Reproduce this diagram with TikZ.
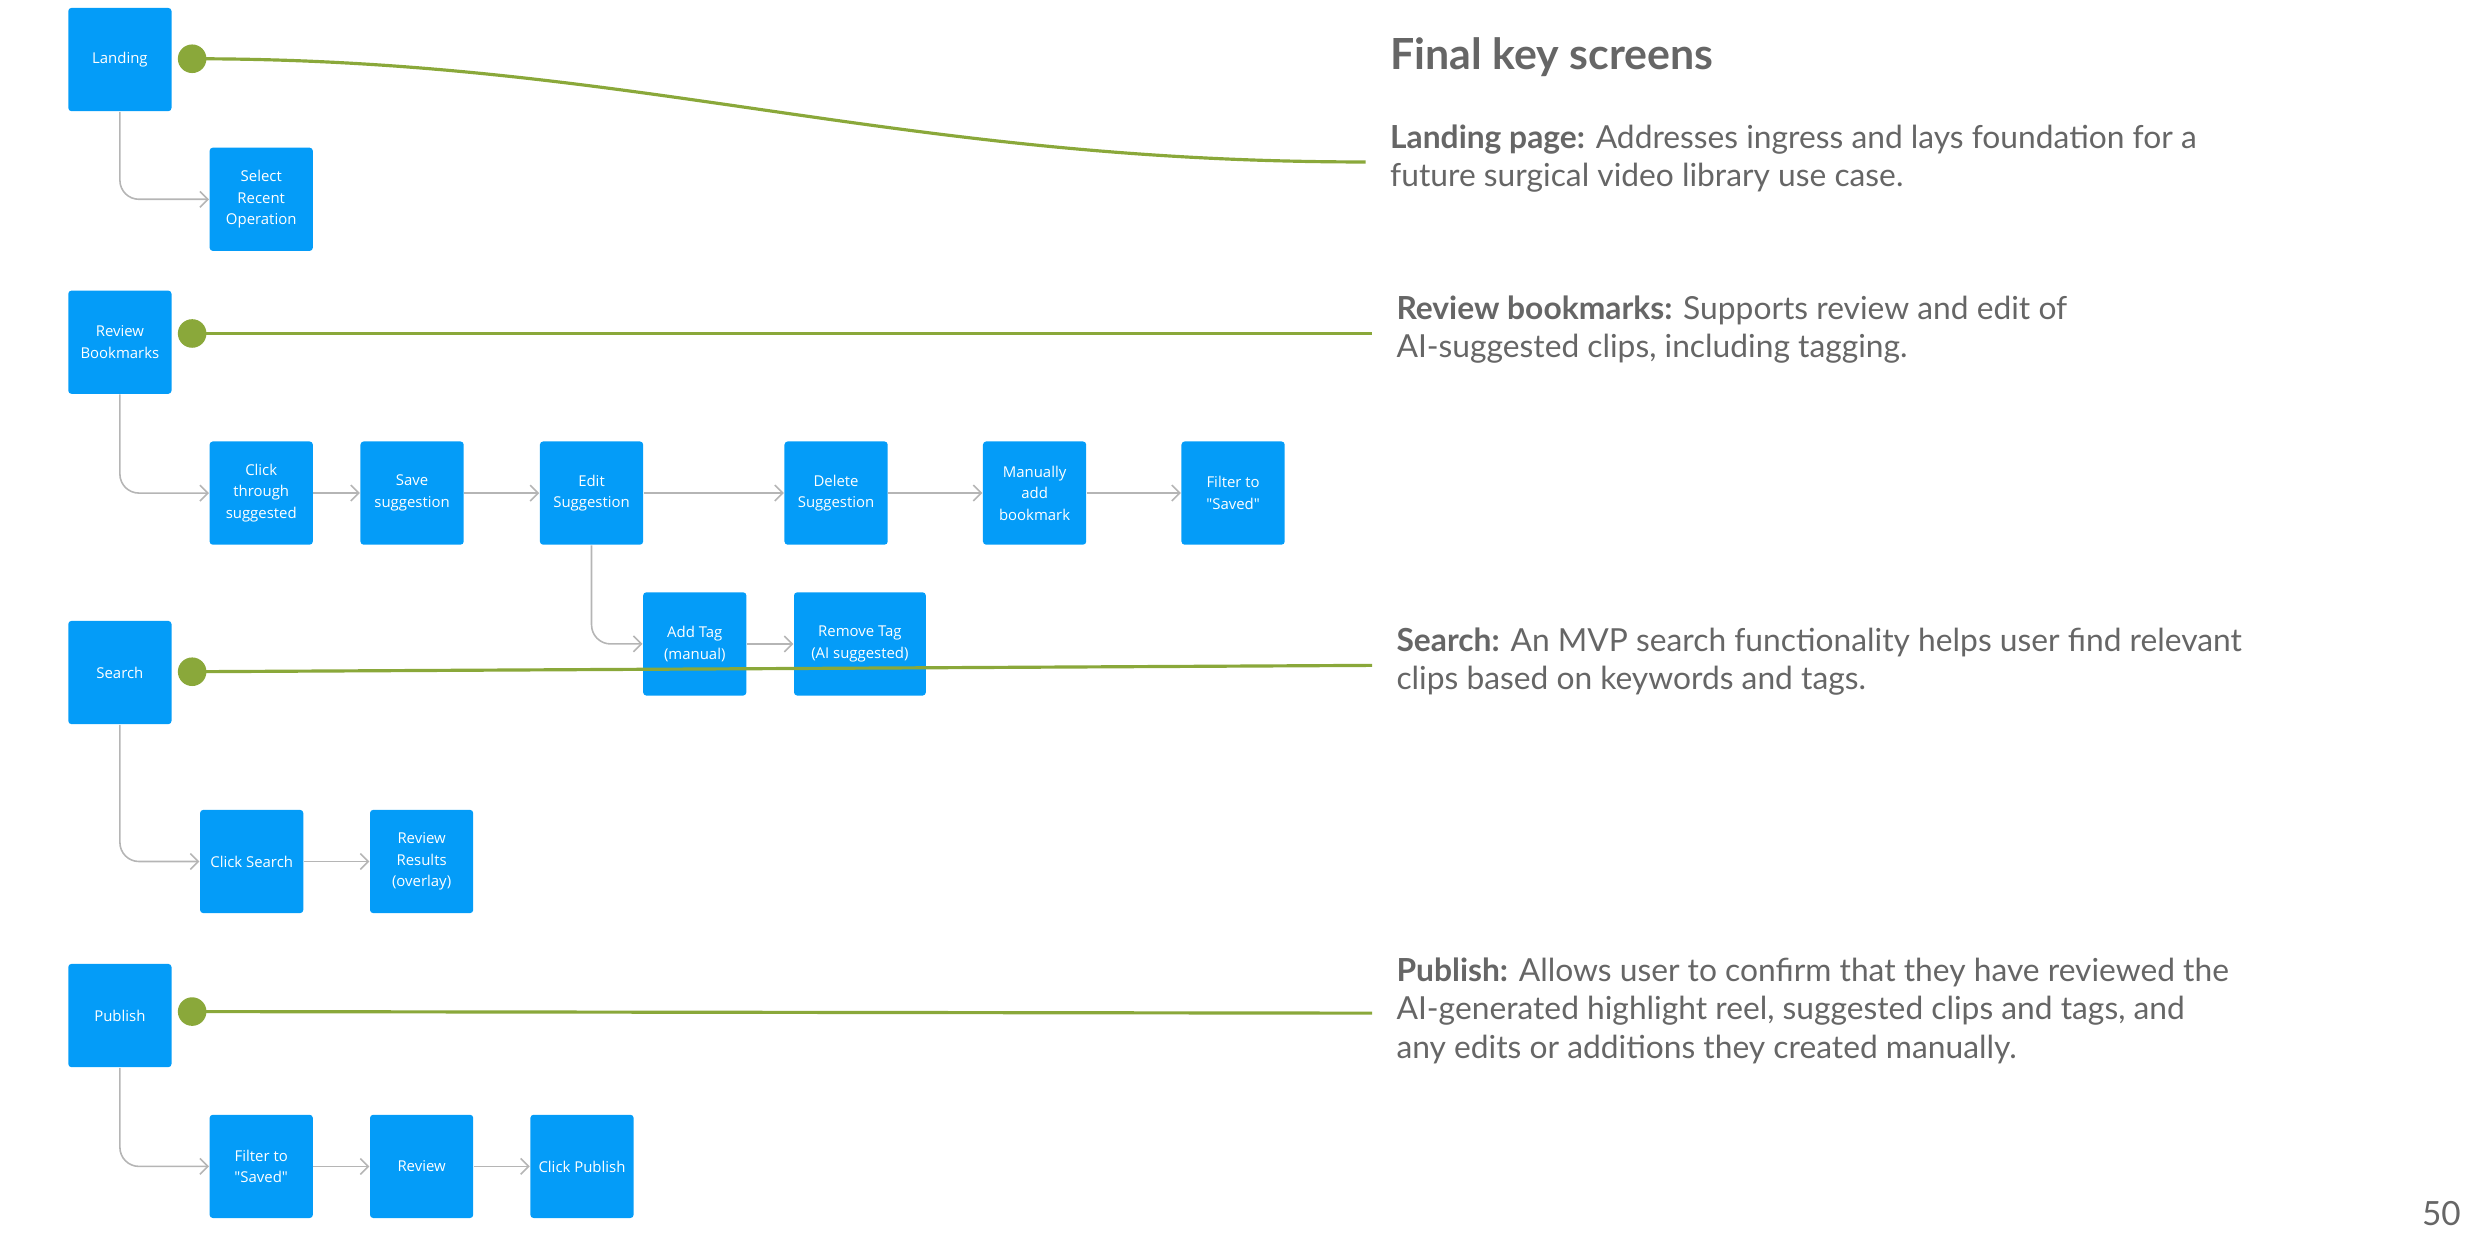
\documentclass[tikz,border=0pt]{standalone}
\usepackage{fontspec}
\setmainfont{Lato}
\newfontfamily\boxfont{Open Sans}
\usetikzlibrary{arrows.meta}
\definecolor{bblue}{HTML}{049CF8}
\definecolor{lgreen}{HTML}{8AA83A}
\definecolor{tgray}{HTML}{666666}
\definecolor{cgray}{HTML}{B5B5B5}
\begin{document}
\begin{tikzpicture}[x=0.5pt,y=-0.5pt,
  scr/.style={fill=bblue,rounded corners=1pt,minimum width=32.5pt,minimum height=32.5pt,inner sep=1pt,text=white,font=\boxfont\fontsize{4.7}{6.8}\selectfont,align=center},
  flow/.style={draw=cgray,line width=0.5pt,-{Straight Barb[length=2.5pt,width=5pt]},rounded corners=6pt},
  gline/.style={draw=lgreen,line width=1pt},
  gdot/.style={circle,fill=lgreen,minimum size=9pt,inner sep=0pt},
  desc/.style={anchor=north west,text=tgray,font=\fontsize{10}{12}\selectfont,align=left,inner sep=0pt}]
\useasboundingbox (0,0) rectangle (1568,791);
\node[scr] (land) at (75.5,37.5) {Landing};
\node[scr] (sel) at (164.5,125.5) {Select\\Recent\\Operation};
\node[scr] (rev) at (75.5,215.5) {Review\\Bookmarks};
\node[scr] (click) at (164.5,310.5) {Click\\through\\suggested};
\node[scr] (save) at (259.5,310.5) {Save\\suggestion};
\node[scr] (edit) at (372.5,310.5) {Edit\\Suggestion};
\node[scr] (del) at (526.5,310.5) {Delete\\Suggestion};
\node[scr] (man) at (651.5,310.5) {Manually\\add\\bookmark};
\node[scr] (filt) at (776.5,310.5) {Filter to\\"Saved"};
\node[scr] (add) at (437.5,405.5) {Add Tag\\(manual)};
\node[scr,minimum width=41.5pt] (rem) at (541.5,405.5) {Remove Tag\\(AI suggested)};
\node[scr] (search) at (75.5,423.5) {Search};
\node[scr] (csearch) at (158.5,542.5) {Click Search};
\node[scr] (rres) at (265.5,542.5) {Review\\Results\\(overlay)};
\node[scr] (pub) at (75.5,639.5) {Publish};
\node[scr] (pfilt) at (164.5,734.5) {Filter to\\"Saved"};
\node[scr] (prev) at (265.5,734.5) {Review};
\node[scr] (cpub) at (366.5,734.5) {Click Publish};

\draw[flow] (land.south) |- (sel.west);
\draw[flow] (rev.south) |- (click.west);
\draw[flow] (click) -- (save);
\draw[flow] (save) -- (edit);
\draw[flow] (edit) -- (del);
\draw[flow] (del) -- (man);
\draw[flow] (man) -- (filt);
\draw[flow] (edit.south) |- (add.west);
\draw[flow] (add) -- (rem);
\draw[flow] (search.south) |- (csearch.west);
\draw[flow] (csearch) -- (rres);
\draw[flow] (pub.south) |- (pfilt.west);
\draw[flow] (pfilt) -- (prev);
\draw[flow] (prev) -- (cpub);

\node[gdot] (d1) at (121,37) {};
\node[gdot] (d2) at (121,210) {};
\node[gdot] (d3) at (121,423) {};
\node[gdot] (d4) at (121,637) {};
\coordinate (e1) at (860,102);
\coordinate (e2) at (864,210);
\coordinate (e3) at (864,419);
\coordinate (e4) at (864,638);
\draw[gline] (d1.center) .. controls (400,37) and (560,102) .. (e1);
\draw[gline] (d2.center) -- (e2);
\draw[gline] (d3.center) -- (e3);
\draw[gline] (d4.center) -- (e4);

\node[anchor=west,text=tgray,font=\bfseries\fontsize{13.5}{16}\selectfont,inner sep=0pt] (title) at (875,36) {Final key screens};
\node[desc] (t1) at (875,78) {\textbf{Landing page:} Addresses ingress and lays foundation for a\\future surgical video library use case.};
\node[desc] (t2) at (879,186) {\textbf{Review bookmarks:} Supports review and edit of\\AI-suggested clips, including tagging.};
\node[desc] (t3) at (879,395) {\textbf{Search:} An MVP search functionality helps user find relevant\\clips based on keywords and tags.};
\node[desc] (t4) at (879,603) {\textbf{Publish:} Allows user to confirm that they have reviewed the\\AI-generated highlight reel, suggested clips and tags, and\\any edits or additions they created manually.};
\node[anchor=east,text=tgray,font=\fontsize{10.5}{12}\selectfont,inner sep=0pt] (pg) at (1550,764) {50};
\end{tikzpicture}
\end{document}
